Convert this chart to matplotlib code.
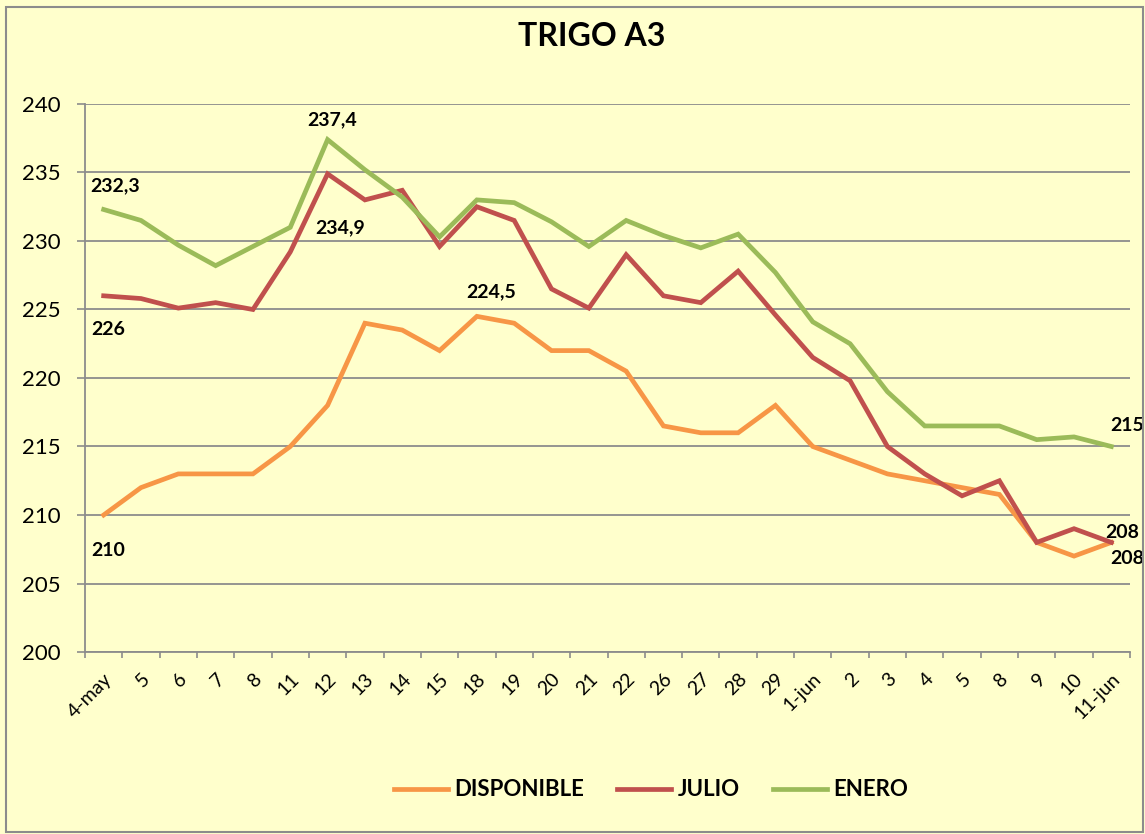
import matplotlib
matplotlib.use("Agg")
import matplotlib.pyplot as plt
import numpy as np

categories = ["4-may", "5", "6", "7", "8", "11", "12", "13", "14", "15", "18", "19", "20", "21",
              "22", "26", "27", "28", "29", "1-jun", "2", "3", "4", "5", "8", "9", "10", "11-jun"]
disponible = [210, 212, 213, 213, 213, 215, 218, 224, 223.5, 222, 224.5, 224, 222, 222,
              220.5, 216.5, 216, 216, 218, 215, 214, 213, 212.5, 212, 211.5, 208, 207, 208]
julio = [226, 225.8, 225.1, 225.5, 225, 229.2, 234.9, 233, 233.7, 229.6, 232.5, 231.5, 226.5, 225.1,
         229, 226, 225.5, 227.8, 224.6, 221.5, 219.8, 215, 213, 211.4, 212.5, 208, 209, 208]
enero = [232.3, 231.5, 229.7, 228.2, 229.6, 231, 237.4, 235.2, 233.2, 230.3, 233, 232.8, 231.4, 229.6,
         231.5, 230.4, 229.5, 230.5, 227.7, 224.1, 222.5, 219, 216.5, 216.5, 216.5, 215.5, 215.7, 215]
series_names = ["DISPONIBLE", "JULIO", "ENERO"]
colors = ["#F79646", "#C0504D", "#9BBB59"]

plt.rcParams['font.family'] = ['Lato', 'DejaVu Sans']

bg = "#FFFFCC"
fig = plt.figure(figsize=(11.45, 8.34), dpi=100, facecolor=bg)
ax = fig.add_axes([85/1145, 1-652/834, (1130-85)/1145, (652-104)/834])
ax.set_facecolor(bg)

x = np.arange(len(categories))
for vals, name, c in zip([disponible, julio, enero], series_names, colors):
    ax.plot(x, vals, color=c, lw=3.4, label=name, solid_joinstyle='miter', zorder=3)

ax.set_xlim(-0.5, len(categories)-0.5)
ax.set_ylim(200, 240)
ax.set_yticks(np.arange(200, 241, 5))
ax.yaxis.grid(True, color="#8C8C8C", lw=1.3)
ax.set_axisbelow(True)
for s in ["top", "right"]:
    ax.spines[s].set_visible(False)
for s in ["left", "bottom"]:
    ax.spines[s].set_color("#8C8C8C")
    ax.spines[s].set_linewidth(1.3)

ax.set_xticks(x)
ax.set_xticklabels(categories, rotation=45, ha='right', rotation_mode='anchor', fontsize=14)
ax.tick_params(axis='x', length=0, pad=13)
ax.set_xticks(np.arange(-0.5, len(categories), 1), minor=True)
ax.tick_params(axis='x', which='minor', length=4.3, color="#8C8C8C", width=1.2)
ax.tick_params(axis='y', labelsize=16, length=5.8, color="#8C8C8C", width=1.2, pad=12)

fig.text(0.5 + 19/1145, 1-37/834, "TRIGO A3", ha='center', va='center', fontsize=23, fontweight='bold')

lbl = dict(fontsize=14, fontweight='bold', color='black', zorder=5,
           textcoords='offset pixels', ha='center', va='center')
ax.annotate("232,3", (0, enero[0]), xytext=(11, 24), **lbl)
ax.annotate("237,4", (6, enero[6]), xytext=(5, 20), **lbl)
ax.annotate("234,9", (6, julio[6]), xytext=(13, -54), **lbl)
ax.annotate("226", (0, julio[0]), xytext=(5, -34), **lbl)
ax.annotate("224,5", (10, disponible[10]), xytext=(14, 25), **lbl)
ax.annotate("210", (0, disponible[0]), xytext=(5, -35), **lbl)
ax.annotate("215", (27, enero[27]), xytext=(16, 21), **lbl)
ax.annotate("208", (27, julio[27]), xytext=(11, 10), **lbl)
ax.annotate("208", (27, disponible[27]), xytext=(16, -16), **lbl)

leg = fig.legend(loc='center', bbox_to_anchor=(651/1145, 1-790/834), ncol=3, frameon=False,
                 prop={'weight': 'bold', 'size': 16}, handlelength=2.43, columnspacing=1.5,
                 handletextpad=0.27)

fig.patches.append(plt.Rectangle((6/1145, 2/834), 1137/1145, 825/834, transform=fig.transFigure,
                                 fill=False, edgecolor="#8C8C8C", lw=1.5))
fig.savefig("out.png", dpi=100, facecolor=bg)
